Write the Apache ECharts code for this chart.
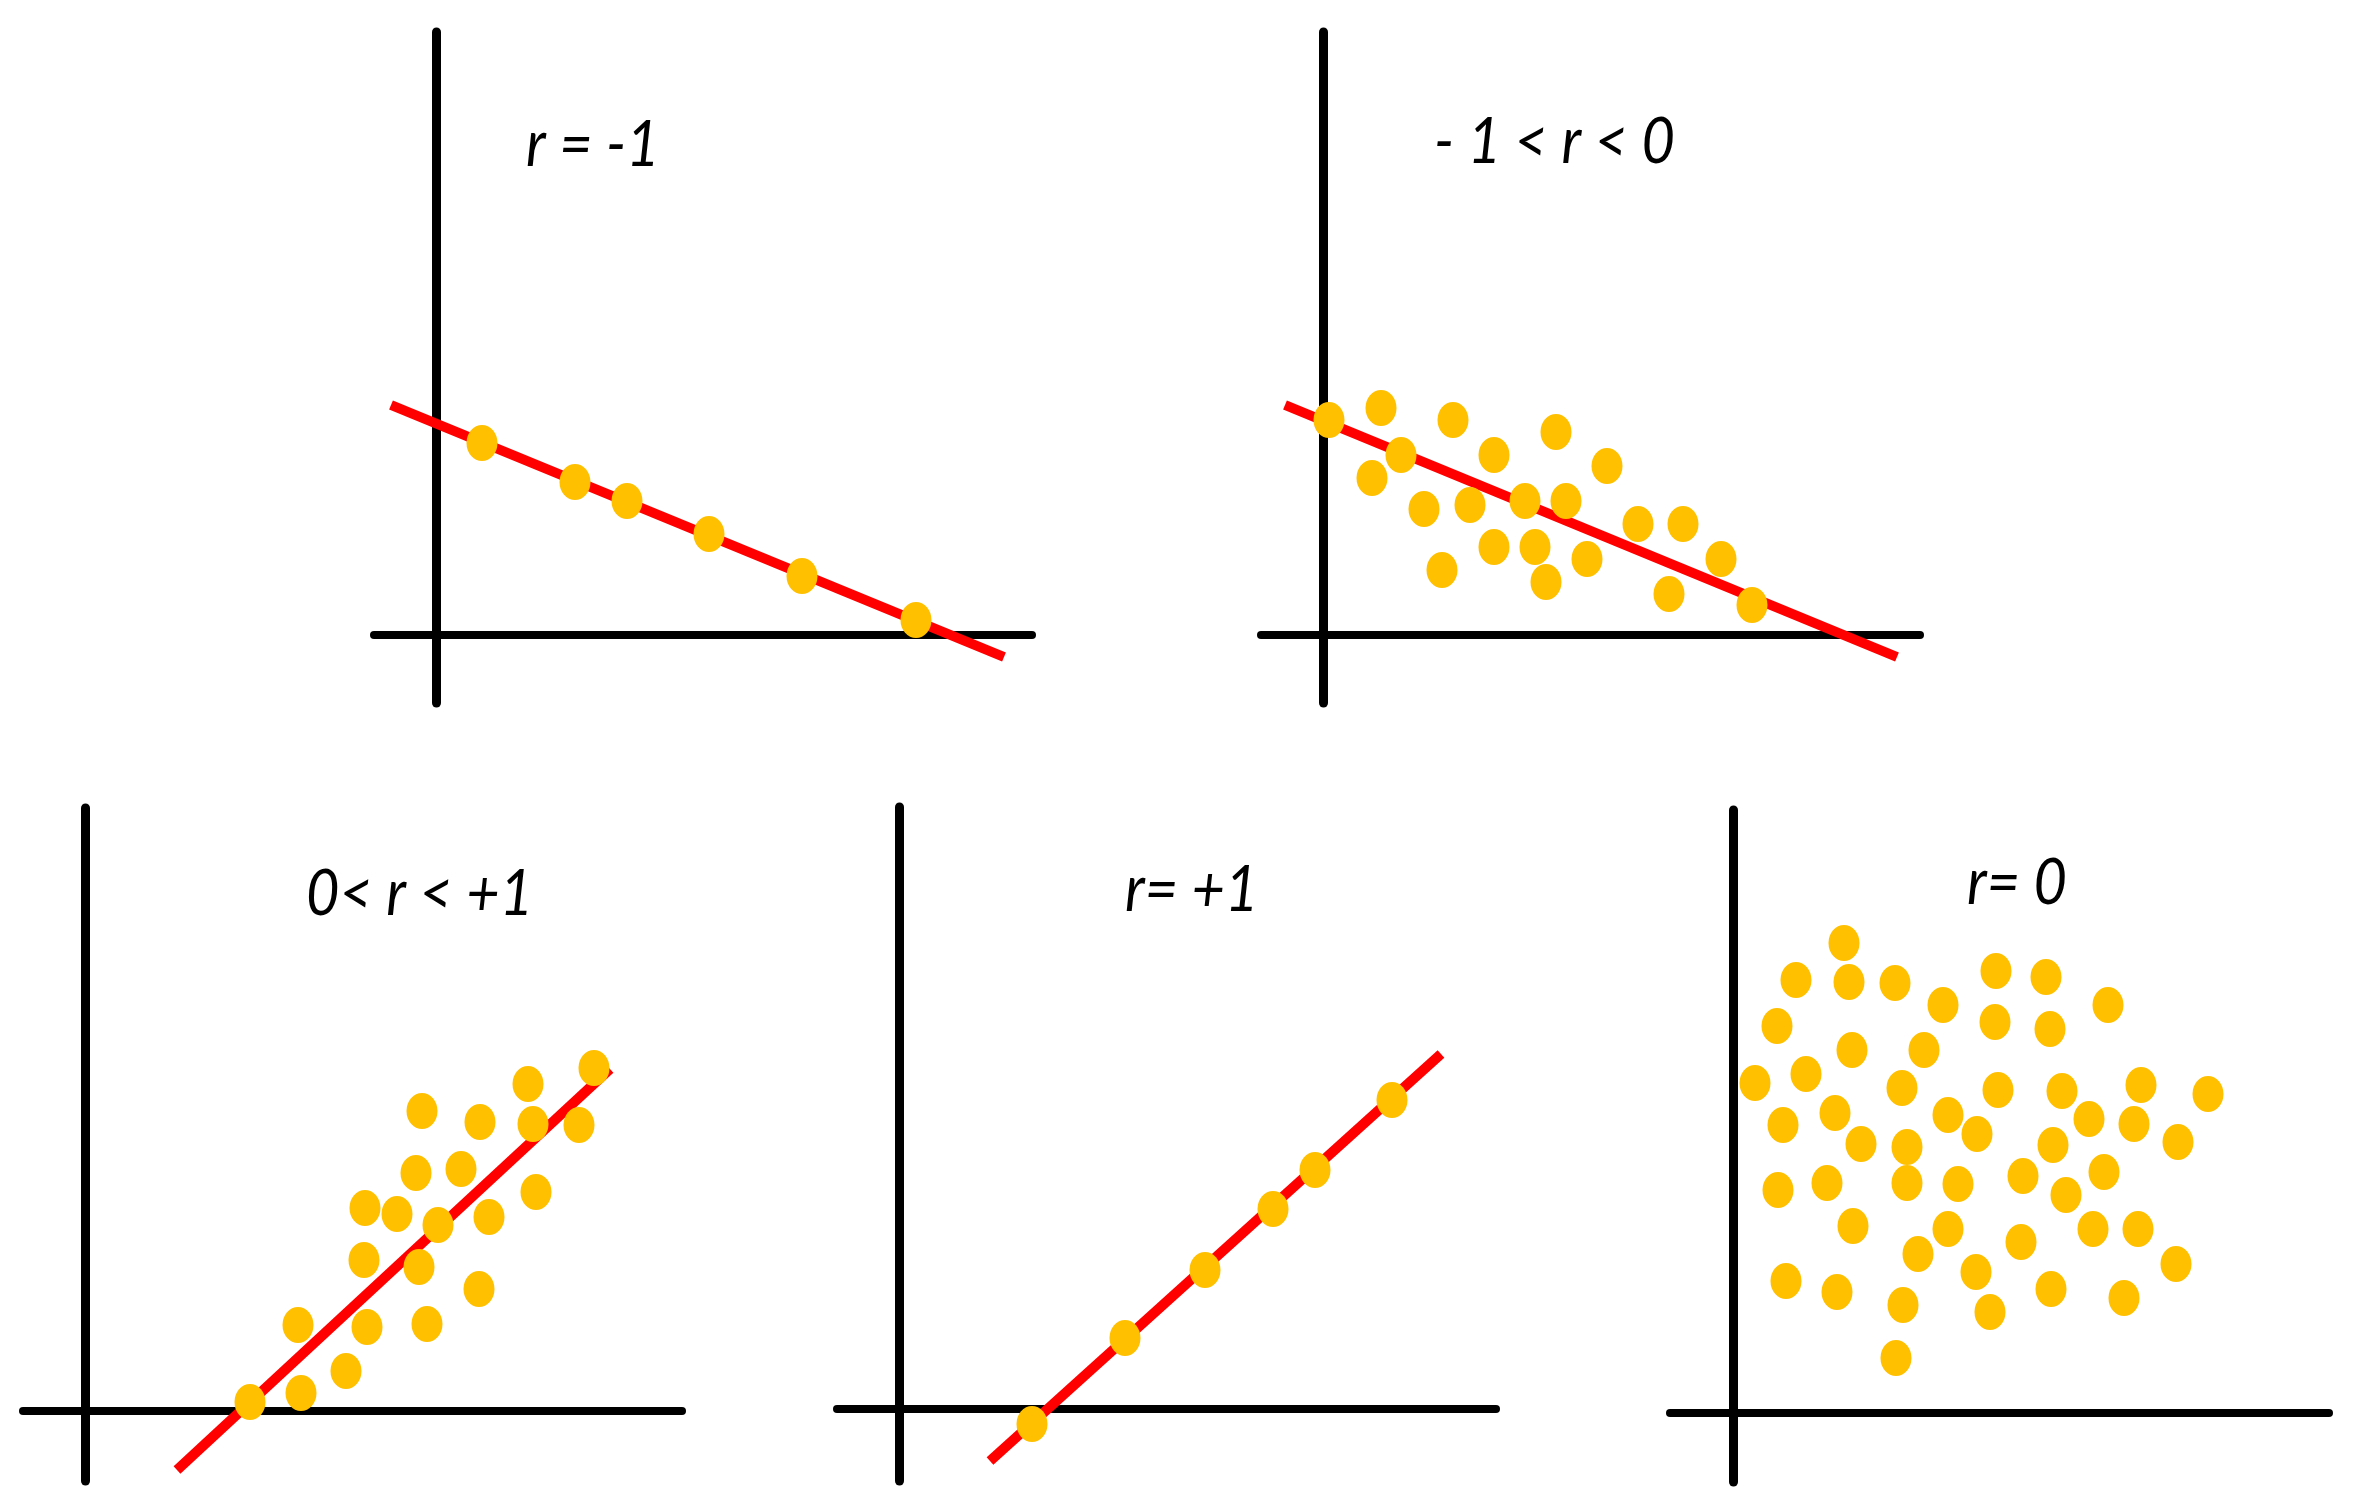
<!DOCTYPE html>
<html>
<head>
<meta charset="utf-8">
<script src="https://cdn.jsdelivr.net/npm/echarts@6/dist/echarts.min.js"></script>
<style>
html,body{margin:0;padding:0;background:#fff;}
#chart{width:2358px;height:1505px;}
</style>
</head>
<body>
<div id="chart"></div>
<script>
// ---- data (units: offset from each panel's origin) ----
const labels = ['r = -1', '- 1 < r < 0', '0< r < +1', 'r= +1', 'r= 0'];

const p1Points = [[46,192],[139,153],[191,134],[273,101],[366,59],[480,15]];
const p1Line = [[-45,230],[568,-22]];

const p2Points = [[6,215],[58,227],[130,215],[78,180],[49,157],[171,180],[233,203],[284,169],
  [101,126],[147,130],[202,134],[243,134],[315,111],[360,111],[171,88],[212,88],[264,76],
  [119,65],[223,53],[346,41],[398,76],[429,30]];
const p2Line = [[-38,230],[574,-22]];

const p3Points = [[165,9],[216,18],[261,40],[213,86],[282,84],[342,87],[394,122],[279,151],
  [334,144],[280,203],[312,197],[353,186],[404,194],[331,238],[376,242],[451,219],[337,300],
  [395,289],[443,327],[448,287],[494,286],[509,343]];
const p3Line = [[92,-59],[525,342]];

const p4Points = [[133,-15],[226,71],[306,139],[374,200],[416,239],[493,309]];
const p4Line = [[91,-52],[542,355]];

const p5Points = [[111,470],[63,433],[116,431],[162,430],[263,442],[313,436],[210,408],[375,408],
  [44,387],[262,391],[317,384],[119,363],[191,363],[22,330],[73,339],[169,325],[265,323],
  [329,322],[408,328],[475,319],[50,288],[102,300],[215,298],[244,279],[356,294],[401,289],
  [128,269],[174,266],[320,268],[445,271],[45,223],[94,230],[174,230],[225,229],[290,237],
  [371,241],[333,218],[120,187],[215,184],[360,184],[405,184],[185,159],[288,171],[443,149],
  [53,132],[104,121],[243,141],[318,124],[170,108],[257,101],[391,115],[163,55]];

const pointSets = [p1Points, p2Points, p3Points, p4Points, p5Points];
const lineSets = [p1Line, p2Line, p3Line, p4Line, null];

// ---- layout (pixel frame of each panel, its origin, label position) ----
const layout = [
  {left:374, right:1032, top:32,  bottom:703,  ox:436,  oy:635,  tx:526,  tb:166},
  {left:1261,right:1920, top:32,  bottom:703,  ox:1323, oy:635,  tx:1434, tb:163},
  {left:23,  right:682,  top:808, bottom:1481, ox:85,   oy:1411, tx:306,  tb:915},
  {left:837, right:1496, top:807, bottom:1481, ox:899,  oy:1409, tx:1125, tb:911},
  {left:1670,right:2329, top:810, bottom:1482, ox:1733, oy:1413, tx:1967, tb:904}
];

const FONT = 64;
const grid = [], xAxis = [], yAxis = [], series = [], graphic = [];
const xAxisLine = {show:true, onZero:true, lineStyle:{color:'#000', width:8}};
const yAxisLine = {show:true, onZero:true, lineStyle:{color:'#000', width:9}};

layout.forEach((L, i) => {
  grid.push({left:L.left, top:L.top, width:L.right-L.left, height:L.bottom-L.top, containLabel:false});
  xAxis.push({type:'value', gridIndex:i, min:L.left-L.ox, max:L.right-L.ox,
    axisLine:xAxisLine, axisTick:{show:false}, axisLabel:{show:false}, splitLine:{show:false}});
  yAxis.push({type:'value', gridIndex:i, min:L.oy-L.bottom, max:L.oy-L.top,
    axisLine:yAxisLine, axisTick:{show:false}, axisLabel:{show:false}, splitLine:{show:false}});
  if (lineSets[i]) {
    series.push({type:'line', xAxisIndex:i, yAxisIndex:i, data:lineSets[i], symbol:'none',
      silent:true, z:2, lineStyle:{color:'#FF0000', width:10, cap:'butt'}});
  }
  series.push({type:'scatter', xAxisIndex:i, yAxisIndex:i, data:pointSets[i], symbol:'circle',
    symbolSize:[31,36], silent:true, z:3, itemStyle:{color:'#FFC000', opacity:1}});
  graphic.push({type:'text', x:L.tx, y:L.tb - 53, scaleX:0.9, scaleY:1,
    style:{text:labels[i], font:'italic ' + FONT + 'px Lato', fill:'#000', align:'left', verticalAlign:'top'}});
});

const chart = echarts.init(document.getElementById('chart'), null, {renderer:'canvas'});
chart.setOption({
  animation:false,
  backgroundColor:'#fff',
  grid, xAxis, yAxis, series, graphic
});
</script>
</body>
</html>
